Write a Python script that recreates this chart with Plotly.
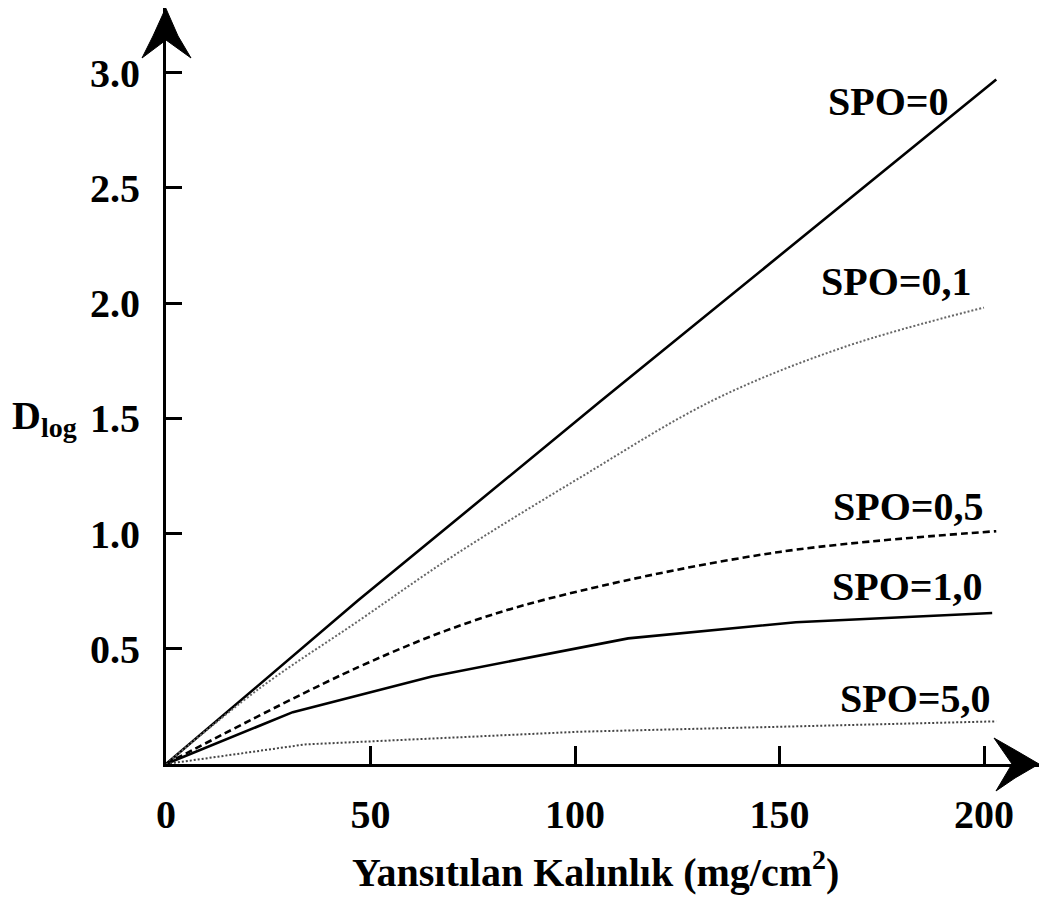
import plotly.graph_objects as go

# ---- data ----
x_spo0 = [0, 47, 106, 203]
y_spo0 = [0, 0.71, 1.57, 2.97]
x_spo01 = [0, 23, 47, 70, 101, 134, 166, 200]
y_spo01 = [0, 0.33, 0.62, 0.90, 1.24, 1.58, 1.81, 1.98]
x_spo05 = [0, 47, 75, 101, 150, 203]
y_spo05 = [0, 0.42, 0.62, 0.75, 0.92, 1.01]
x_spo10 = [0, 31, 65, 113, 154, 202]
y_spo10 = [0, 0.225, 0.38, 0.545, 0.615, 0.655]
x_spo50 = [0, 34, 101, 150, 203]
y_spo50 = [0, 0.085, 0.14, 0.162, 0.185]

series_labels = ["SPO=0", "SPO=0,1", "SPO=0,5", "SPO=1,0", "SPO=5,0"]
x_ticks = [0, 50, 100, 150, 200]
x_tick_text = ["0", "50", "100", "150", "200"]
y_ticks = [0.5, 1.0, 1.5, 2.0, 2.5, 3.0]
y_tick_text = ["0.5", "1.0", "1.5", "2.0", "2.5", "3.0"]
x_title = "Yansıtılan Kalınlık (mg/cm<sup>2</sup>)"
y_title = "D<sub>log</sub>"

# ---- geometry / style ----
W, H = 1040, 900
ML, MR, MT, MB = 166, 1, 8, 136
PW, PH = W - ML - MR, H - MT - MB
X_RANGE = [0, PW / 4.09]
Y_RANGE = [0, PH / 230.5]
FONT = "Liberation Serif, Times New Roman, serif"


def px(xp):
    return (xp - ML) / PW


def py(yp):
    return (H - MB - yp) / PH


fig = go.Figure()
styles = [
    dict(color="black", width=2.6, dash="solid"),
    dict(color="#666666", width=2.0, dash="2px,2px"),
    dict(color="black", width=2.6, dash="7px,4px"),
    dict(color="black", width=2.6, dash="solid"),
    dict(color="#444444", width=2.0, dash="2px,2px"),
]
series = [(x_spo0, y_spo0), (x_spo01, y_spo01), (x_spo05, y_spo05),
          (x_spo10, y_spo10), (x_spo50, y_spo50)]
shapes_kind = ["linear", "spline", "spline", "linear", "linear"]
for (xs, ys), name, st, sk in zip(series, series_labels, styles, shapes_kind):
    fig.add_trace(go.Scatter(x=xs, y=ys, mode="lines", name=name,
                             line=dict(shape=sk, smoothing=1.0, **st),
                             showlegend=False, cliponaxis=False, hoverinfo="skip"))

# series labels
label_pos = [(888, 101), (896, 281), (908, 506), (907, 586), (915, 698)]
for text, (lx, ly) in zip(series_labels, label_pos):
    fig.add_annotation(x=px(lx), y=py(ly), xref="paper", yref="paper",
                       text=text, showarrow=False, xanchor="center", yanchor="middle",
                       font=dict(family=FONT, size=40, color="black", weight="bold"))

# axis titles
fig.add_annotation(x=px(595), y=py(869), xref="paper", yref="paper", text=x_title,
                   showarrow=False, xanchor="center", yanchor="middle",
                   font=dict(family=FONT, size=40, color="black", weight="bold"))
fig.add_annotation(x=px(10), y=py(418), xref="paper", yref="paper", text=y_title,
                   showarrow=False, xanchor="left", yanchor="middle",
                   font=dict(family=FONT, size=40, color="black", weight="bold"))

# arrow heads (decoration)
def path(points):
    s = "M" + " L".join(f"{px(a):.5f},{py(b):.5f}" for a, b in points) + " Z"
    return s

y_arrow = [(165.7, 8), (153, 36), (142, 58), (166, 40), (191, 58), (178, 36)]
x_arrow = [(1039, 764), (1015, 750), (994, 738), (1012, 764), (996, 791), (1015, 778)]
for pts in (y_arrow, x_arrow):
    fig.add_shape(type="path", path=path(pts), xref="paper", yref="paper",
                  fillcolor="black", line=dict(color="black", width=1), layer="above")

axis_common = dict(showgrid=False, zeroline=False, showline=True, linecolor="black",
                   linewidth=3, ticks="inside", tickcolor="black", tickwidth=2.5,
                   tickfont=dict(family=FONT, size=40, color="black", weight="bold"))
fig.update_xaxes(range=X_RANGE, tickvals=x_ticks, ticktext=x_tick_text,
                 ticklen=18, ticklabelstandoff=13, **axis_common)
fig.update_yaxes(range=Y_RANGE, tickvals=y_ticks, ticktext=y_tick_text,
                 ticklen=16, ticklabelstandoff=15, **axis_common)

fig.update_layout(width=W, height=H, margin=dict(l=ML, r=MR, t=MT, b=MB),
                  plot_bgcolor="white", paper_bgcolor="white", showlegend=False)

fig.write_html("out.html", config={"displayModeBar": False},
               post_script="document.body.style.margin='0';")
